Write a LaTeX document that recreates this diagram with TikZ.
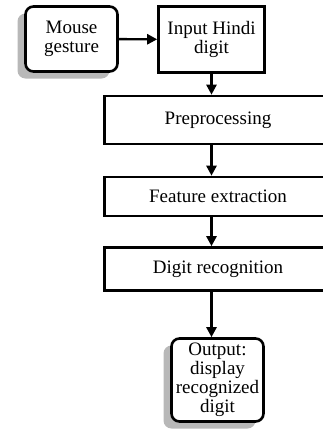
\documentclass[tikz,border=0pt]{standalone}
\usepackage{fontspec}
\setmainfont{Liberation Serif}
\usetikzlibrary{arrows.meta,shadows}

\tikzset{
  stage/.style={draw, line width=2.6pt, inner sep=0pt, align=center,
    font=\fontsize{19}{19}\selectfont},
  roundstage/.style={stage, rounded corners=8pt, fill=white,
    drop shadow={shadow xshift=-8pt, shadow yshift=-7pt, fill=black!28, opacity=1}},
  flow/.style={line width=2.4pt, -{Triangle[length=10pt,width=10pt]}}
}

\begin{document}
\begin{tikzpicture}[x=1pt,y=-1pt]
  \useasboundingbox (0,0) rectangle (323,429);
  \node[roundstage, minimum width=92pt, minimum height=65pt] (mouse) at (71.5,39) {Mouse\\gesture};
  \node[stage, minimum width=106pt, minimum height=66pt] (input) at (211.5,39.5) {Input Hindi\\digit};
  \node[stage, minimum width=227pt, minimum height=48pt] (pre) at (218,120) {Preprocessing};
  \node[stage, minimum width=227pt, minimum height=39pt] (feat) at (218,196.5) {Feature extraction};
  \node[stage, minimum width=227pt, minimum height=43pt] (rec) at (218,269) {Digit recognition};
  \node[roundstage, minimum width=92pt, minimum height=83pt] (out) at (217.5,380) {Output:\\display\\recognized\\digit};
  \draw[flow] (mouse) -- (input);
  \draw[flow] (input.south) -- (input.south |- pre.north);
  \draw[flow] (input.south |- pre.south) -- (input.south |- feat.north);
  \draw[flow] (input.south |- feat.south) -- (input.south |- rec.north);
  \draw[flow] (input.south |- rec.south) -- (input.south |- out.north);
\end{tikzpicture}
\end{document}
